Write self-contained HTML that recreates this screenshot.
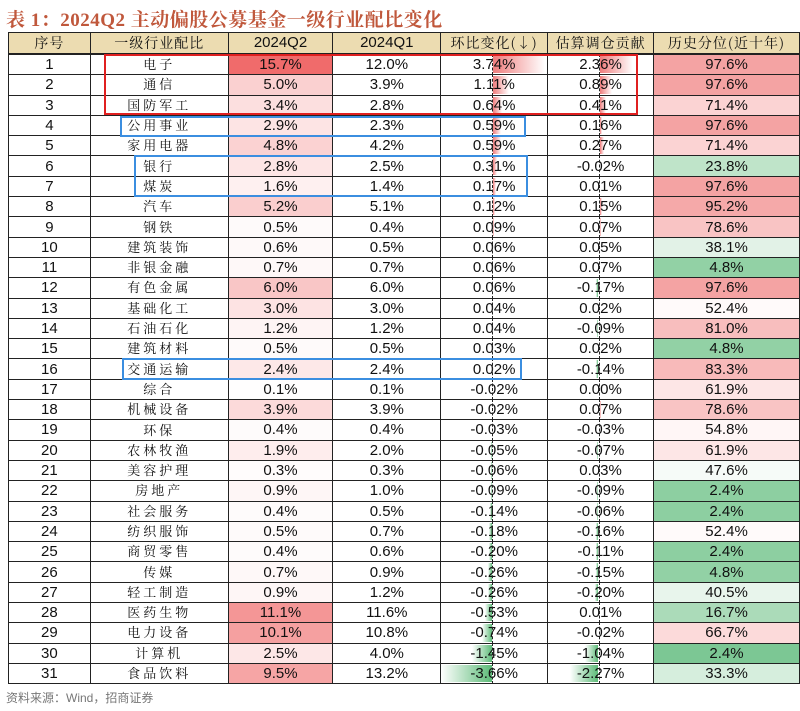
<!DOCTYPE html>
<html><head><meta charset="utf-8"><style>
body{margin:0;width:800px;height:711px;background:#fff;position:relative;overflow:hidden;font-family:"Liberation Sans",sans-serif}
.title{position:absolute;left:6px;top:5px;font:bold 19px "Liberation Serif","Noto Serif CJK SC",serif;color:#c0583c;letter-spacing:0.5px}
table{position:absolute;left:8px;top:32px;border-collapse:collapse;table-layout:fixed}
td,th{border:1.3px solid #222;padding:0;height:19.3px;text-align:center;font-size:15px;position:relative;color:#111;line-height:19px;white-space:nowrap;vertical-align:middle}
th{background:#ecdcb1;font-weight:normal;font-family:"Noto Serif CJK SC",serif;font-size:14px;letter-spacing:1px;height:20px;border-bottom:2px solid #222;line-height:16px}
th.n{font-family:"Liberation Sans",sans-serif;font-size:15px;letter-spacing:0}
td.c b{font-weight:normal;font-family:"Noto Serif CJK SC",serif;font-size:13px;letter-spacing:3px;display:inline-block;line-height:14px;vertical-align:middle;position:relative;top:-1px}
td span{position:relative;z-index:2}
.p{position:absolute;left:52px;top:1px;bottom:1px;background:linear-gradient(to right,#ef7c7c,#fff)}
.g{position:absolute;right:55px;top:1px;bottom:1px;background:linear-gradient(to left,#5dbb78,#fff)}
.z{position:absolute;left:51px;top:-1px;bottom:-1px;border-left:1.5px dashed #222;z-index:3}
.box{position:absolute;box-sizing:border-box;z-index:5}
.src{position:absolute;left:6px;top:689px;font:12px "Liberation Sans","Noto Sans CJK SC",sans-serif;color:#777}
</style></head><body>
<div class="title">表 1：2024Q2 主动偏股公募基金一级行业配比变化</div>
<table>
<colgroup><col style="width:82px"><col style="width:138px"><col style="width:105px"><col style="width:108px"><col style="width:107px"><col style="width:106px"><col style="width:146px"></colgroup>
<tr><th>序号</th><th>一级行业配比</th><th class="n">2024Q2</th><th class="n">2024Q1</th><th>环比变化(↓)</th><th>估算调仓贡献</th><th>历史分位(近十年)</th></tr>
<tr><td>1</td><td class="c"><b>电子</b></td><td style="background:#f06b6b">15.7%</td><td>12.0%</td><td><i class="p" style="width:52px"></i><i class="z"></i><span>3.74%</span></td><td><i class="p" style="width:33px"></i><i class="z"></i><span>2.36%</span></td><td style="background:#f4a3a3">97.6%</td></tr>
<tr><td>2</td><td class="c"><b>通信</b></td><td style="background:#fad0d0">5.0%</td><td>3.9%</td><td><i class="p" style="width:16px"></i><i class="z"></i><span>1.11%</span></td><td><i class="p" style="width:12px"></i><i class="z"></i><span>0.89%</span></td><td style="background:#f4a3a3">97.6%</td></tr>
<tr><td>3</td><td class="c"><b>国防军工</b></td><td style="background:#fcdfdf">3.4%</td><td>2.8%</td><td><i class="p" style="width:9px"></i><i class="z"></i><span>0.64%</span></td><td><i class="p" style="width:6px"></i><i class="z"></i><span>0.41%</span></td><td style="background:#fbd3d3">71.4%</td></tr>
<tr><td>4</td><td class="c"><b>公用事业</b></td><td style="background:#fde4e4">2.9%</td><td>2.3%</td><td><i class="p" style="width:8px"></i><i class="z"></i><span>0.59%</span></td><td><i class="p" style="width:2px"></i><i class="z"></i><span>0.16%</span></td><td style="background:#f4a3a3">97.6%</td></tr>
<tr><td>5</td><td class="c"><b>家用电器</b></td><td style="background:#fbd2d2">4.8%</td><td>4.2%</td><td><i class="p" style="width:8px"></i><i class="z"></i><span>0.59%</span></td><td><i class="p" style="width:4px"></i><i class="z"></i><span>0.27%</span></td><td style="background:#fbd3d3">71.4%</td></tr>
<tr><td>6</td><td class="c"><b>银行</b></td><td style="background:#fde5e5">2.8%</td><td>2.5%</td><td><i class="p" style="width:4px"></i><i class="z"></i><span>0.31%</span></td><td><i class="z"></i><span>-0.02%</span></td><td style="background:#bfe4c9">23.8%</td></tr>
<tr><td>7</td><td class="c"><b>煤炭</b></td><td style="background:#fef0f0">1.6%</td><td>1.4%</td><td><i class="p" style="width:3px"></i><i class="z"></i><span>0.17%</span></td><td><i class="z"></i><span>0.01%</span></td><td style="background:#f4a3a3">97.6%</td></tr>
<tr><td>8</td><td class="c"><b>汽车</b></td><td style="background:#facece">5.2%</td><td>5.1%</td><td><i class="p" style="width:2px"></i><i class="z"></i><span>0.12%</span></td><td><i class="p" style="width:2px"></i><i class="z"></i><span>0.15%</span></td><td style="background:#f5a9a9">95.2%</td></tr>
<tr><td>9</td><td class="c"><b>钢铁</b></td><td style="background:#fefafa">0.5%</td><td>0.4%</td><td><i class="p" style="width:1px"></i><i class="z"></i><span>0.09%</span></td><td><i class="p" style="width:1px"></i><i class="z"></i><span>0.07%</span></td><td style="background:#f9c4c4">78.6%</td></tr>
<tr><td>10</td><td class="c"><b>建筑装饰</b></td><td style="background:#fef9f9">0.6%</td><td>0.5%</td><td><i class="z"></i><span>0.06%</span></td><td><i class="z"></i><span>0.05%</span></td><td style="background:#e2f2e7">38.1%</td></tr>
<tr><td>11</td><td class="c"><b>非银金融</b></td><td style="background:#fef8f8">0.7%</td><td>0.7%</td><td><i class="z"></i><span>0.06%</span></td><td><i class="z"></i><span>0.07%</span></td><td style="background:#92d1a5">4.8%</td></tr>
<tr><td>12</td><td class="c"><b>有色金属</b></td><td style="background:#f9c6c6">6.0%</td><td>6.0%</td><td><i class="z"></i><span>0.06%</span></td><td><i class="g" style="width:2px"></i><i class="z"></i><span>-0.17%</span></td><td style="background:#f4a3a3">97.6%</td></tr>
<tr><td>13</td><td class="c"><b>基础化工</b></td><td style="background:#fde3e3">3.0%</td><td>3.0%</td><td><i class="z"></i><span>0.04%</span></td><td><i class="z"></i><span>0.02%</span></td><td style="background:#fffafa">52.4%</td></tr>
<tr><td>14</td><td class="c"><b>石油石化</b></td><td style="background:#fef4f4">1.2%</td><td>1.2%</td><td><i class="z"></i><span>0.04%</span></td><td><i class="g" style="width:1px"></i><i class="z"></i><span>-0.09%</span></td><td style="background:#f8bebe">81.0%</td></tr>
<tr><td>15</td><td class="c"><b>建筑材料</b></td><td style="background:#fefafa">0.5%</td><td>0.5%</td><td><i class="z"></i><span>0.03%</span></td><td><i class="z"></i><span>0.02%</span></td><td style="background:#92d1a5">4.8%</td></tr>
<tr><td>16</td><td class="c"><b>交通运输</b></td><td style="background:#fde8e8">2.4%</td><td>2.4%</td><td><i class="z"></i><span>0.02%</span></td><td><i class="g" style="width:2px"></i><i class="z"></i><span>-0.14%</span></td><td style="background:#f8baba">83.3%</td></tr>
<tr><td>17</td><td class="c"><b>综合</b></td><td style="background:#fffefe">0.1%</td><td>0.1%</td><td><i class="z"></i><span>-0.02%</span></td><td><i class="z"></i><span>0.00%</span></td><td style="background:#fde6e6">61.9%</td></tr>
<tr><td>18</td><td class="c"><b>机械设备</b></td><td style="background:#fcdada">3.9%</td><td>3.9%</td><td><i class="z"></i><span>-0.02%</span></td><td><i class="p" style="width:1px"></i><i class="z"></i><span>0.07%</span></td><td style="background:#f9c4c4">78.6%</td></tr>
<tr><td>19</td><td class="c"><b>环保</b></td><td style="background:#fefbfb">0.4%</td><td>0.4%</td><td><i class="z"></i><span>-0.03%</span></td><td><i class="z"></i><span>-0.03%</span></td><td style="background:#fff6f6">54.8%</td></tr>
<tr><td>20</td><td class="c"><b>农林牧渔</b></td><td style="background:#feeded">1.9%</td><td>2.0%</td><td><i class="g" style="width:1px"></i><i class="z"></i><span>-0.05%</span></td><td><i class="g" style="width:1px"></i><i class="z"></i><span>-0.07%</span></td><td style="background:#fde6e6">61.9%</td></tr>
<tr><td>21</td><td class="c"><b>美容护理</b></td><td style="background:#fffcfc">0.3%</td><td>0.3%</td><td><i class="g" style="width:1px"></i><i class="z"></i><span>-0.06%</span></td><td><i class="z"></i><span>0.03%</span></td><td style="background:#f6fbf8">47.6%</td></tr>
<tr><td>22</td><td class="c"><b>房地产</b></td><td style="background:#fef6f6">0.9%</td><td>1.0%</td><td><i class="g" style="width:1px"></i><i class="z"></i><span>-0.09%</span></td><td><i class="g" style="width:1px"></i><i class="z"></i><span>-0.09%</span></td><td style="background:#8dcfa1">2.4%</td></tr>
<tr><td>23</td><td class="c"><b>社会服务</b></td><td style="background:#fefbfb">0.4%</td><td>0.5%</td><td><i class="g" style="width:2px"></i><i class="z"></i><span>-0.14%</span></td><td><i class="g" style="width:1px"></i><i class="z"></i><span>-0.06%</span></td><td style="background:#8dcfa1">2.4%</td></tr>
<tr><td>24</td><td class="c"><b>纺织服饰</b></td><td style="background:#fefafa">0.5%</td><td>0.7%</td><td><i class="g" style="width:3px"></i><i class="z"></i><span>-0.18%</span></td><td><i class="g" style="width:2px"></i><i class="z"></i><span>-0.16%</span></td><td style="background:#fffafa">52.4%</td></tr>
<tr><td>25</td><td class="c"><b>商贸零售</b></td><td style="background:#fefbfb">0.4%</td><td>0.6%</td><td><i class="g" style="width:3px"></i><i class="z"></i><span>-0.20%</span></td><td><i class="g" style="width:2px"></i><i class="z"></i><span>-0.11%</span></td><td style="background:#8dcfa1">2.4%</td></tr>
<tr><td>26</td><td class="c"><b>传媒</b></td><td style="background:#fef8f8">0.7%</td><td>0.9%</td><td><i class="g" style="width:4px"></i><i class="z"></i><span>-0.26%</span></td><td><i class="g" style="width:2px"></i><i class="z"></i><span>-0.15%</span></td><td style="background:#92d1a5">4.8%</td></tr>
<tr><td>27</td><td class="c"><b>轻工制造</b></td><td style="background:#fef6f6">0.9%</td><td>1.2%</td><td><i class="g" style="width:4px"></i><i class="z"></i><span>-0.26%</span></td><td><i class="g" style="width:3px"></i><i class="z"></i><span>-0.20%</span></td><td style="background:#e8f5ec">40.5%</td></tr>
<tr><td>28</td><td class="c"><b>医药生物</b></td><td style="background:#f49696">11.1%</td><td>11.6%</td><td><i class="g" style="width:7px"></i><i class="z"></i><span>-0.53%</span></td><td><i class="z"></i><span>0.01%</span></td><td style="background:#abdbb9">16.7%</td></tr>
<tr><td>29</td><td class="c"><b>电力设备</b></td><td style="background:#f5a0a0">10.1%</td><td>10.8%</td><td><i class="g" style="width:10px"></i><i class="z"></i><span>-0.74%</span></td><td><i class="z"></i><span>-0.02%</span></td><td style="background:#fcdada">66.7%</td></tr>
<tr><td>30</td><td class="c"><b>计算机</b></td><td style="background:#fde7e7">2.5%</td><td>4.0%</td><td><i class="g" style="width:20px"></i><i class="z"></i><span>-1.45%</span></td><td><i class="g" style="width:13px"></i><i class="z"></i><span>-1.04%</span></td><td style="background:#7cc794">2.4%</td></tr>
<tr><td>31</td><td class="c"><b>食品饮料</b></td><td style="background:#f6a5a5">9.5%</td><td>13.2%</td><td><i class="g" style="width:51px"></i><i class="z"></i><span>-3.66%</span></td><td><i class="g" style="width:28px"></i><i class="z"></i><span>-2.27%</span></td><td style="background:#d6eedd">33.3%</td></tr>
</table>
<div class="box" style="left:104px;top:54px;width:534px;height:61px;border:2px solid #e02020"></div>
<div class="box" style="left:120px;top:116px;width:406px;height:21px;border:2px solid #3b8ee0"></div>
<div class="box" style="left:134px;top:155px;width:394px;height:42px;border:2px solid #3b8ee0"></div>
<div class="box" style="left:122px;top:358px;width:400px;height:22px;border:2px solid #3b8ee0"></div>
<div class="src">资料来源：Wind，招商证券</div>
</body></html>
